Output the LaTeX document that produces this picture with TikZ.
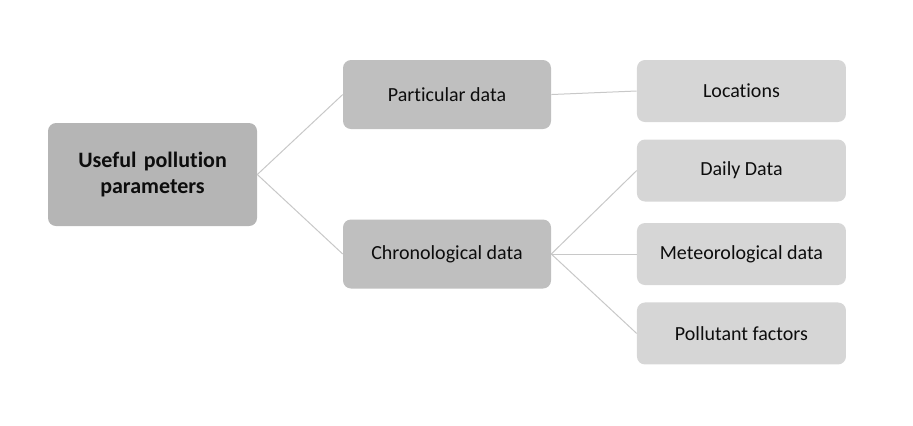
\documentclass[tikz,border=0pt]{standalone}
\usepackage{fontspec}
\setmainfont[Ligatures=NoCommon]{Carlito}
\usetikzlibrary{shapes,arrows}
\definecolor{rootgray}{RGB}{181,181,181}
\definecolor{midgray}{RGB}{191,191,191}
\definecolor{leafgray}{RGB}{214,214,214}
\definecolor{linegray}{RGB}{200,200,200}
\definecolor{textgray}{RGB}{13,13,13}
\tikzstyle{rootblock} = [rectangle, fill=rootgray, text=textgray, font=\fontsize{16.5}{19}\selectfont\bfseries,
    text width=145pt, align=center, rounded corners=6pt, minimum width=156.75pt, minimum height=77.25pt]
\tikzstyle{midblock} = [rectangle, fill=midgray, text=textgray, font=\fontsize{15}{18}\selectfont,
    text centered, rounded corners=6pt, minimum width=156pt, minimum height=51.75pt]
\tikzstyle{leafblock} = [rectangle, fill=leafgray, text=textgray, font=\fontsize{15}{18}\selectfont,
    text centered, rounded corners=6pt, minimum width=156.75pt, minimum height=46.5pt]
\tikzstyle{line} = [draw, color=linegray, line width=0.75pt]
\begin{document}
\begin{tikzpicture}
    \useasboundingbox (0,0) rectangle (684.75pt,-318.75pt);
    % Place nodes
    \node [rootblock] (root) at (114.4pt,-130.9pt) {Useful pollution\\parameters};
    \node [midblock, right of=root, node distance=220.85pt, yshift=60pt] (partic) {Particular data};
    \node [midblock, below of=partic, node distance=119.6pt] (chrono) {Chronological data};
    \node [leafblock, right of=partic, node distance=220.85pt, yshift=2.65pt] (loc) {Locations};
    \node [leafblock, right of=chrono, node distance=220.85pt] (meteo) {Meteorological data};
    \node [leafblock, above of=meteo, node distance=62.6pt] (daily) {Daily Data};
    \node [leafblock, below of=meteo, node distance=59.6pt] (pollut) {Pollutant factors};
    % Draw edges
    \path [line] (root.east) -- (partic.west);
    \path [line] (root.east) -- (chrono.west);
    \path [line] (partic.east) -- (loc.west);
    \path [line] (chrono.east) -- (daily.west);
    \path [line] (chrono.east) -- (meteo.west);
    \path [line] (chrono.east) -- (pollut.west);
\end{tikzpicture}
\end{document}
